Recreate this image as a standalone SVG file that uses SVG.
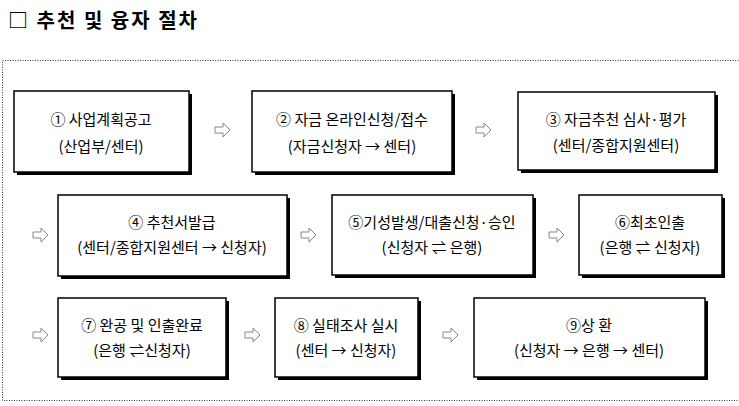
<svg xmlns="http://www.w3.org/2000/svg" width="739" height="406" viewBox="0 0 739 406">
<style>
.t{font-family:"Noto Sans CJK KR","Noto Sans",sans-serif;font-size:15px;fill:#000;text-anchor:middle}
.b{fill:#fff;stroke:#000;stroke-width:1.5}
.s{fill:#000}
.a{fill:#fff;stroke:#888;stroke-width:1}
</style>
<defs><path id="arr" class="a" d="M-7,-3 H1 V-7 L8,0 L1,7 V3 H-7 Z"/></defs>
<rect width="739" height="406" fill="#fff"/>
<text x="8" y="28" font-family="Noto Sans CJK KR,sans-serif" font-size="20" font-weight="bold" letter-spacing="2">□ 추천 및 융자 절차</text>
<rect x="2.5" y="60.5" width="745" height="340" fill="none" stroke="#333" stroke-width="1" stroke-dasharray="1,1.5"/>
<g id="connectors">
<use href="#arr" x="222" y="130"/>
<use href="#arr" x="483" y="130"/>
<use href="#arr" x="40" y="235"/>
<use href="#arr" x="308" y="235"/>
<use href="#arr" x="556" y="235"/>
<use href="#arr" x="40" y="335"/>
<use href="#arr" x="252" y="335"/>
<use href="#arr" x="450" y="335"/>
</g>
<g id="n1"><rect class="s" x="17" y="94" width="175" height="81"/><rect class="b" x="14" y="91" width="175" height="81"/><text class="t" x="101" y="125">① 사업계획공고</text><text class="t" x="101" y="152">(산업부/센터)</text></g>
<g id="n2"><rect class="s" x="255" y="94" width="200" height="81"/><rect class="b" x="252" y="91" width="200" height="81"/><text class="t" x="352" y="125">② 자금 온라인신청/접수</text><text class="t" x="352" y="152">(자금신청자 → 센터)</text></g>
<g id="n3"><rect class="s" x="521" y="95" width="197" height="78"/><rect class="b" x="518" y="92" width="197" height="78"/><text class="t" x="616" y="125">③ 자금추천 심사·평가</text><text class="t" x="616" y="151">(센터/종합지원센터)</text></g>
<g id="n4"><rect class="s" x="61" y="198" width="229" height="81"/><rect class="b" x="58" y="195" width="229" height="81"/><text class="t" x="172" y="228">④ 추천서발급</text><text class="t" x="172" y="253">(센터/종합지원센터 → 신청자)</text></g>
<g id="n5"><rect class="s" x="335" y="198" width="201" height="80"/><rect class="b" x="332" y="195" width="201" height="80"/><text class="t" x="432" y="228">⑤기성발생/대출신청·승인</text><text class="t" x="432" y="253">(신청자 ⇌ 은행)</text></g>
<g id="n6"><rect class="s" x="582" y="198" width="143" height="80"/><rect class="b" x="579" y="195" width="143" height="80"/><text class="t" x="650" y="228">⑥최초인출</text><text class="t" x="650" y="253">(은행 ⇌ 신청자)</text></g>
<g id="n7"><rect class="s" x="61" y="301" width="168" height="79"/><rect class="b" x="58" y="298" width="168" height="79"/><text class="t" x="142" y="331">⑦ 완공 및 인출완료</text><text class="t" x="142" y="356">(은행 ⇌신청자)</text></g>
<g id="n8"><rect class="s" x="278" y="301" width="143" height="79"/><rect class="b" x="275" y="298" width="143" height="79"/><text class="t" x="346" y="331">⑧ 실태조사 실시</text><text class="t" x="346" y="356">(센터 → 신청자)</text></g>
<g id="n9"><rect class="s" x="477" y="301" width="231" height="79"/><rect class="b" x="474" y="298" width="231" height="79"/><text class="t" x="589" y="331">⑨상 환</text><text class="t" x="589" y="356">(신청자 → 은행 → 센터)</text></g>
</svg>
